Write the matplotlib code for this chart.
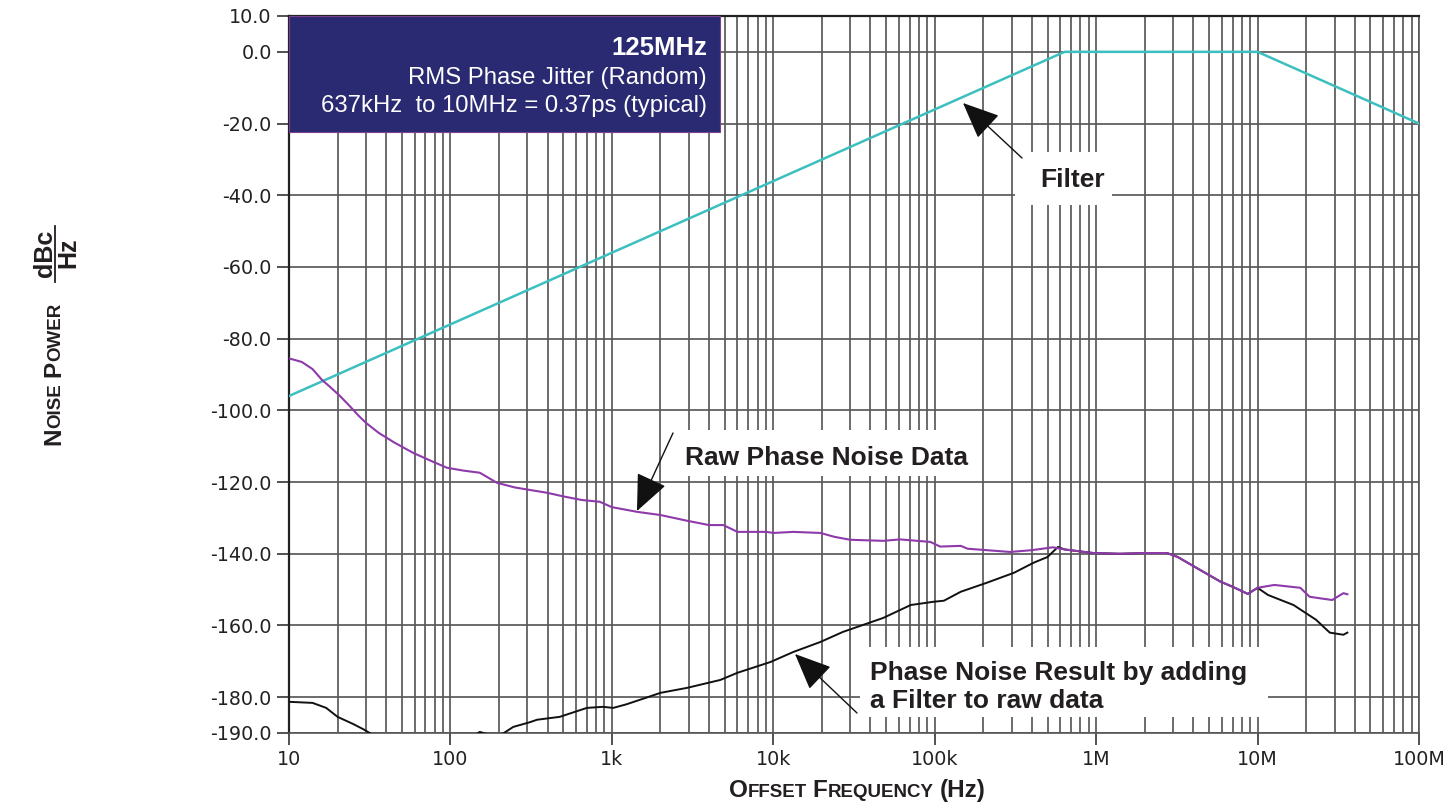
import matplotlib
matplotlib.use("Agg")
import matplotlib.pyplot as plt
from matplotlib.patches import Rectangle
from matplotlib.lines import Line2D
from matplotlib.ticker import LogLocator, NullFormatter

plt.rcParams['axes.unicode_minus'] = False

# ---------------- data ----------------
filter_freq = [10, 637e3, 10e6, 100e6]
filter_db = [-96.0, 0.0, 0.0, -20.0]

raw_freq = [10, 12, 14, 16, 18, 20.7, 24, 27, 30, 36, 45, 59, 75, 95, 120, 152, 194,
            250, 320, 398, 500, 650, 841, 1000, 1430, 2000, 2930, 4000, 4900, 6000,
            9100, 10000, 13300, 19600, 24000, 30000, 48000, 61000, 94000, 108000,
            145000, 160000, 210000, 293000, 400000, 540000, 637000, 960000, 1.4e6,
            2.0e6, 2.75e6, 3.2e6, 4.4e6, 5.9e6, 7.0e6, 8.7e6, 10e6, 12.7e6, 18.4e6,
            21e6, 25e6, 29e6, 34e6, 36e6]
raw_db = [-85.5, -86.5, -88.5, -91.5, -93.5, -96.0, -99.0, -101.5, -103.5, -106.3,
          -109.0, -111.9, -114.0, -116.0, -116.8, -117.4, -120.2, -121.5, -122.3,
          -123.0, -124.0, -125.0, -125.5, -127.0, -128.3, -129.2, -130.8, -132.0,
          -132.0, -133.9, -133.9, -134.2, -133.9, -134.2, -135.3, -136.1, -136.4,
          -136.0, -136.7, -138.0, -137.8, -138.6, -139.0, -139.5, -139.0, -138.2,
          -138.8, -139.8, -140.0, -139.8, -139.8, -140.9, -144.5, -147.8, -149.2,
          -151.2, -149.5, -148.7, -149.5, -152.0, -152.5, -152.9, -151.0, -151.3]

result_freq = [10, 14, 17, 20, 25, 29, 33, 40, 60, 100, 130, 152, 175, 211, 245, 310,
               344, 475, 700, 880, 1020, 1230, 1670, 2000, 2930, 4700, 6000, 9600,
               13300, 19600, 27000, 48000, 71000, 98000, 114000, 145000, 210000,
               310000, 410000, 500000, 580000, 637000, 960000, 1.4e6, 2.0e6, 2.75e6,
               3.2e6, 4.4e6, 5.9e6, 7.0e6, 8.7e6, 10e6, 11.6e6, 16.7e6, 23e6, 28e6,
               34e6, 36e6]
result_db = [-181.3, -181.6, -183.0, -185.5, -187.5, -189.0, -190.5, -192.0, -193.0,
             -192.5, -191.5, -189.7, -190.5, -190.2, -188.3, -187.0, -186.3, -185.5,
             -183.0, -182.7, -183.0, -182.0, -180.0, -178.8, -177.4, -175.2, -173.2,
             -170.2, -167.4, -164.6, -161.8, -157.9, -154.3, -153.4, -153.1, -150.6,
             -148.1, -145.3, -142.5, -140.9, -138.1, -138.8, -139.8, -140.0, -139.8,
             -139.8, -140.9, -144.5, -147.8, -149.2, -151.2, -149.5, -151.5, -154.3,
             -158.4, -162.0, -162.6, -162.0]

y_ticks = [10, 0, -20, -40, -60, -80, -100, -120, -140, -160, -180, -190]
y_ticklabels = ["10.0", "0.0", "-20.0", "-40.0", "-60.0", "-80.0", "-100.0",
                "-120.0", "-140.0", "-160.0", "-180.0", "-190.0"]
x_ticks = [1e1, 1e2, 1e3, 1e4, 1e5, 1e6, 1e7, 1e8]
x_ticklabels = ["10", "100", "1k", "10k", "100k", "1M", "10M", "100M"]

box_lines = ["125MHz", "RMS Phase Jitter (Random)", "637kHz  to 10MHz = 0.37ps (typical)"]

# ---------------- figure ----------------
W, H = 1456, 806
fig = plt.figure(figsize=(W / 100, H / 100), dpi=100)
ax = fig.add_axes([289 / W, 1 - 733 / H, 1130 / W, 717 / H])


def P(x, y):
    return (x / W, 1 - y / H)


ax.set_xscale('log')
ax.set_xlim(10, 1e8)
ax.set_ylim(-190, 10)

ax.set_xticks(x_ticks)
ax.set_xticklabels(x_ticklabels)
ax.xaxis.set_minor_locator(LogLocator(base=10, subs=[2, 3, 4, 5, 6, 7, 8, 9], numticks=20))
ax.xaxis.set_minor_formatter(NullFormatter())
ax.set_yticks(y_ticks)
ax.set_yticklabels(y_ticklabels)

grid_c = '#5a5a5a'
ax.grid(True, which='major', axis='both', color=grid_c, linewidth=1.25)
ax.grid(True, which='minor', axis='x', color=grid_c, linewidth=1.25)

ax.tick_params(axis='both', which='major', direction='out', length=8.5, width=1.2,
               color='#333333', labelsize=13.8, labelcolor='#222222', pad=4)
ax.tick_params(axis='x', which='minor', length=0)
for lab in ax.get_xticklabels() + ax.get_yticklabels():
    lab.set_family('DejaVu Sans')

for side in ['left', 'top']:
    ax.spines[side].set_color('#222222')
    ax.spines[side].set_linewidth(1.6)
for side in ['right', 'bottom']:
    ax.spines[side].set_color('#555555')
    ax.spines[side].set_linewidth(1.2)

# curves
ax.plot(filter_freq, filter_db, color='#3cbfc0', linewidth=1.8, zorder=3)
ax.plot(result_freq, result_db, color='#111111', linewidth=1.4, zorder=3)
ax.plot(raw_freq, raw_db, color='#8e3aab', linewidth=1.5, zorder=4)

# navy info box
bx0, by0 = P(289, 132)
bx1, by1 = P(720, 16)
ax.add_patch(Rectangle((bx0, by0), bx1 - bx0, by1 - by0, transform=fig.transFigure,
                       facecolor='#2a2a72', edgecolor='#7a3f8f', linewidth=0.8,
                       zorder=6, clip_on=False))
fam = ['Liberation Sans', 'DejaVu Sans']
fig.text(*P(707, 55), box_lines[0], color='white', fontsize=18.5, fontweight='bold',
         ha='right', va='baseline', family=fam, zorder=7)
fig.text(*P(707, 84), box_lines[1], color='white', fontsize=17.2,
         ha='right', va='baseline', family=fam, zorder=7)
fig.text(*P(707, 112), box_lines[2], color='white', fontsize=17.2,
         ha='right', va='baseline', family=fam, zorder=7)

# white label backgrounds (hide grid)
for (x0, y0, x1, y1) in [(1015, 152, 1112, 205), (672, 430, 978, 476), (860, 647, 1268, 717)]:
    a, b = P(x0, y1)
    c, d = P(x1, y0)
    ax.add_patch(Rectangle((a, b), c - a, d - b, transform=fig.transFigure,
                           facecolor='white', edgecolor='none', zorder=1.8))

lab_kw = dict(fontsize=19, fontweight='bold', color='#231f20', family=fam,
              ha='left', va='baseline', zorder=7)
fig.text(*P(1040, 187), "Filter", **lab_kw)
fig.text(*P(685, 465), "Raw Phase Noise Data", **lab_kw)
fig.text(*P(870, 680), "Phase Noise Result by adding", **lab_kw)
fig.text(*P(870, 708), "a Filter to raw data", **lab_kw)

arrow_kw = dict(arrowstyle='-|>,head_length=1.15,head_width=0.5', mutation_scale=20,
                color='#111111', lw=1.0, shrinkA=0, shrinkB=0)
for tip, tail in [((963, 103), (1022, 158)), ((637, 511), (673, 433)),
                  ((795, 654), (857, 713))]:
    ax.annotate('', xy=P(*tip), xytext=P(*tail), xycoords='figure fraction',
                textcoords='figure fraction', arrowprops=arrow_kw, zorder=8,
                annotation_clip=False)

# small-caps axis labels
renderer = fig.canvas.get_renderer()
BIG, SMALL = 17.5, 13.5


def width_of(s, size):
    t = fig.text(0, 0, s, fontsize=size, fontweight='bold', family=fam)
    w = t.get_window_extent(renderer).width
    t.remove()
    return w


def draw_pieces(pieces, cx, cy, vertical=False, gap=6):
    widths = [gap if s == ' ' else width_of(s, sz) for s, sz in pieces]
    total = sum(widths)
    pos = -total / 2
    for (s, sz), w in zip(pieces, widths):
        if s != ' ':
            if vertical:
                fig.text(cx / W, (H - cy + pos) / H, s,
                         fontsize=sz, fontweight='bold', family=fam, color='#231f20',
                         rotation=90, rotation_mode='anchor', ha='left', va='baseline')
            else:
                fig.text((cx + pos) / W, 1 - cy / H, s, fontsize=sz, fontweight='bold',
                         family=fam, color='#231f20', ha='left', va='baseline')
        pos += w


draw_pieces([("O", BIG), ("FFSET", SMALL), (" ", 0), ("F", BIG), ("REQUENCY", SMALL),
             (" ", 0), ("(Hz)", BIG)], 857, 797)
draw_pieces([("N", BIG), ("OISE", SMALL), (" ", 0), ("P", BIG), ("OWER", SMALL)],
            60, 374, vertical=True)

# dBc / Hz fraction
fig.text(*P(52, 253), "dBc", fontsize=18, fontweight='bold', family=fam, color='#231f20',
         rotation=90, rotation_mode='anchor', ha='center', va='baseline')
fig.text(*P(75, 253), "Hz", fontsize=18, fontweight='bold', family=fam, color='#231f20',
         rotation=90, rotation_mode='anchor', ha='center', va='baseline')
fig.add_artist(Line2D([55 / W, 55 / W], [1 - 226 / H, 1 - 282 / H], color='#231f20',
                      linewidth=1.3, transform=fig.transFigure))

fig.savefig("out.png", dpi=100)
